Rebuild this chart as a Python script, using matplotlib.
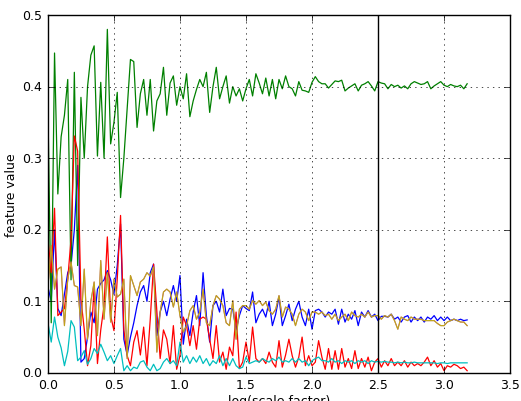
import numpy as np
import matplotlib
matplotlib.use('Agg')
import matplotlib.pyplot as plt

plt.style.use('classic')

# sample grid in log(scale factor)
log_scale = np.arange(128) * 0.025

blue = [0.12, 0.10, 0.20, 0.09, 0.08, 0.11, 0.14, 0.15, 0.20, 0.29,
        0.015, 0.02, 0.05, 0.085, 0.07, 0.117, 0.125, 0.13, 0.143, 0.13,
        0.11, 0.15, 0.208, 0.047, 0.025, 0.05, 0.07, 0.094, 0.113, 0.122,
        0.10, 0.14, 0.152, 0.052, 0.085, 0.10, 0.08, 0.103, 0.122, 0.10,
        0.136, 0.04, 0.075, 0.052, 0.085, 0.108, 0.066, 0.14, 0.08, 0.043,
        0.094, 0.10, 0.085, 0.117, 0.08, 0.09, 0.089, 0.06, 0.08, 0.094,
        0.09, 0.087, 0.113, 0.07, 0.082, 0.089, 0.078, 0.10, 0.066, 0.082,
        0.106, 0.066, 0.08, 0.096, 0.073, 0.089, 0.10, 0.078, 0.066, 0.089,
        0.061, 0.087, 0.089, 0.085, 0.078, 0.085, 0.082, 0.089, 0.068, 0.089,
        0.071, 0.082, 0.075, 0.087, 0.066, 0.085, 0.078, 0.087, 0.078, 0.082,
        0.073, 0.079, 0.079, 0.078, 0.082, 0.075, 0.078, 0.071, 0.078, 0.080,
        0.071, 0.078, 0.073, 0.078, 0.071, 0.078, 0.075, 0.080, 0.073, 0.078,
        0.073, 0.078, 0.073, 0.075, 0.073, 0.075, 0.073, 0.074]

green = [0.37, 0.07, 0.447, 0.25, 0.33, 0.36, 0.41, 0.13, 0.42, 0.15,
         0.385, 0.30, 0.40, 0.444, 0.457, 0.303, 0.406, 0.30, 0.48, 0.32,
         0.35, 0.392, 0.245, 0.30, 0.37, 0.438, 0.435, 0.343, 0.39, 0.41,
         0.36, 0.41, 0.338, 0.38, 0.39, 0.427, 0.36, 0.405, 0.415, 0.374,
         0.40, 0.383, 0.418, 0.358, 0.38, 0.396, 0.41, 0.40, 0.42, 0.364,
         0.40, 0.427, 0.383, 0.40, 0.415, 0.377, 0.40, 0.387, 0.397, 0.38,
         0.397, 0.41, 0.387, 0.418, 0.405, 0.39, 0.412, 0.387, 0.41, 0.383,
         0.41, 0.397, 0.415, 0.40, 0.397, 0.387, 0.407, 0.395, 0.394, 0.392,
         0.406, 0.414, 0.407, 0.404, 0.404, 0.398, 0.403, 0.408, 0.407, 0.409,
         0.394, 0.398, 0.401, 0.404, 0.394, 0.402, 0.404, 0.407, 0.401, 0.394,
         0.407, 0.405, 0.404, 0.397, 0.403, 0.400, 0.402, 0.398, 0.401, 0.397,
         0.404, 0.407, 0.405, 0.403, 0.404, 0.407, 0.397, 0.401, 0.404, 0.407,
         0.402, 0.400, 0.403, 0.401, 0.400, 0.402, 0.397, 0.404]

red = [0.187, 0.14, 0.23, 0.08, 0.085, 0.09, 0.131, 0.187, 0.331, 0.31,
       0.103, 0.061, 0.01, 0.038, 0.122, 0.013, 0.06, 0.094, 0.19, 0.08,
       0.059, 0.131, 0.22, 0.06, 0.024, 0.01, 0.043, 0.059, 0.025, 0.064,
       0.01, 0.075, 0.152, 0.085, 0.02, 0.06, 0.047, 0.013, 0.066, 0.005,
       0.024, 0.078, 0.066, 0.038, 0.066, 0.033, 0.075, 0.078, 0.075, 0.047,
       0.02, 0.066, 0.015, 0.029, 0.005, 0.036, 0.024, 0.085, 0.006, 0.015,
       0.043, 0.015, 0.064, 0.02, 0.015, 0.02, 0.013, 0.029, 0.015, 0.008,
       0.045, 0.008, 0.025, 0.047, 0.024, 0.008, 0.022, 0.05, 0.010, 0.024,
       0.01, 0.015, 0.045, 0.022, 0.005, 0.034, 0.005, 0.031, 0.005, 0.034,
       0.008, 0.02, 0.006, 0.031, 0.006, 0.02, 0.008, 0.022, 0.003, 0.015,
       0.02, 0.008, 0.017, 0.010, 0.02, 0.01, 0.015, 0.010, 0.017, 0.008,
       0.015, 0.010, 0.013, 0.010, 0.015, 0.022, 0.010, 0.017, 0.008, 0.013,
       0.003, 0.010, 0.008, 0.012, 0.010, 0.006, 0.008, 0.003]

cyan = [0.07, 0.043, 0.078, 0.05, 0.035, 0.01, 0.03, 0.073, 0.064, 0.017,
        0.022, 0.031, 0.012, 0.02, 0.034, 0.027, 0.04, 0.029, 0.017, 0.024,
        0.013, 0.024, 0.034, 0.003, 0.01, 0.003, 0.008, 0.006, 0.015, 0.017,
        0.008, 0.003, 0.012, 0.003, 0.006, 0.015, 0.02, 0.013, 0.017, 0.010,
        0.043, 0.015, 0.024, 0.013, 0.022, 0.015, 0.024, 0.013, 0.020, 0.010,
        0.017, 0.013, 0.024, 0.010, 0.020, 0.010, 0.020, 0.010, 0.006, 0.008,
        0.022, 0.013, 0.015, 0.017, 0.015, 0.020, 0.017, 0.015, 0.020, 0.017,
        0.022, 0.015, 0.017, 0.015, 0.020, 0.015, 0.020, 0.015, 0.017, 0.010,
        0.017, 0.020, 0.022, 0.017, 0.017, 0.015, 0.020, 0.015, 0.017, 0.013,
        0.017, 0.015, 0.017, 0.013, 0.017, 0.015, 0.017, 0.013, 0.017, 0.015,
        0.016, 0.015, 0.016, 0.015, 0.015, 0.014, 0.015, 0.014, 0.015, 0.014,
        0.014, 0.015, 0.014, 0.014, 0.014, 0.014, 0.014, 0.014, 0.013, 0.014,
        0.014, 0.013, 0.014, 0.014, 0.014, 0.014, 0.014, 0.014]

gold = [0.12, 0.178, 0.117, 0.145, 0.148, 0.066, 0.131, 0.155, 0.122, 0.12,
        0.066, 0.145, 0.047, 0.10, 0.127, 0.052, 0.157, 0.075, 0.14, 0.071,
        0.131, 0.106, 0.11, 0.131, 0.02, 0.136, 0.122, 0.108, 0.127, 0.131,
        0.14, 0.135, 0.148, 0.029, 0.085, 0.113, 0.117, 0.113, 0.092, 0.113,
        0.08, 0.057, 0.066, 0.087, 0.094, 0.075, 0.085, 0.117, 0.07, 0.066,
        0.094, 0.108, 0.103, 0.094, 0.07, 0.066, 0.101, 0.047, 0.089, 0.094,
        0.094, 0.089, 0.101, 0.096, 0.101, 0.094, 0.099, 0.087, 0.082, 0.089,
        0.108, 0.078, 0.092, 0.089, 0.082, 0.066, 0.082, 0.089, 0.085, 0.073,
        0.085, 0.085, 0.082, 0.085, 0.080, 0.082, 0.075, 0.082, 0.073, 0.078,
        0.082, 0.073, 0.085, 0.080, 0.078, 0.082, 0.078, 0.085, 0.078, 0.080,
        0.080, 0.075, 0.080, 0.078, 0.082, 0.073, 0.061, 0.078, 0.075, 0.073,
        0.078, 0.075, 0.075, 0.075, 0.073, 0.073, 0.073, 0.073, 0.069, 0.066,
        0.066, 0.071, 0.073, 0.075, 0.073, 0.071, 0.071, 0.066]

fig = plt.figure(figsize=(5.21, 4.02), dpi=100)
ax = fig.add_axes([0.092, 0.07, 0.887, 0.89])

lw = 0.9
ax.plot(log_scale, blue, color='b', lw=lw)
ax.plot(log_scale, green, color='g', lw=lw)
ax.plot(log_scale, red, color='r', lw=lw)
ax.plot(log_scale, cyan, color='c', lw=lw)
# magenta and yellow series nearly coincide -> goldish blend
ax.plot(log_scale, gold, color='m', lw=0.7)
ax.plot(log_scale, gold, color='y', lw=lw, alpha=0.85)
ax.axvline(2.5, color='k', lw=1.0)

ax.set_xlim(0, 3.5)
ax.set_ylim(0, 0.5)
ax.grid(True)
ax.tick_params(labelsize=9)
ax.set_xlabel('log(scale factor)', fontsize=9, labelpad=2)
ax.set_ylabel('feature value', fontsize=9)
ax.yaxis.set_label_coords(-0.065, 0.5)

fig.savefig('out.png', dpi=100)
